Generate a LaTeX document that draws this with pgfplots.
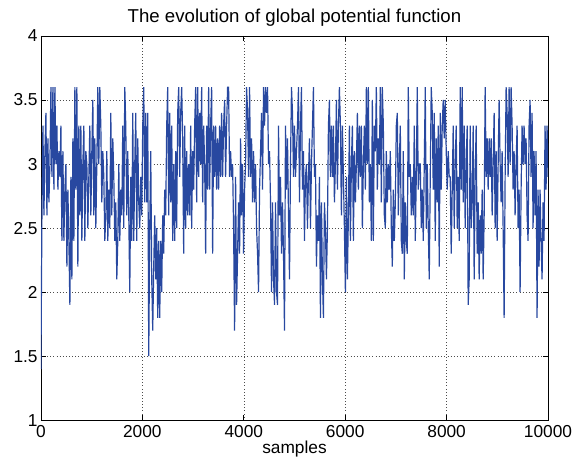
\documentclass[border=0pt]{standalone}
\usepackage{fontspec}
\setmainfont{Liberation Sans}
\usepackage{pgfplots}
\pgfplotsset{compat=1.18}
\definecolor{mblue}{RGB}{40,72,160}
\begin{document}
\fontsize{13}{15}\selectfont
\begin{tikzpicture}
\useasboundingbox (-30.75pt,-35.25pt) rectangle (402.75pt,315.75pt);
\begin{axis}[
  at={(0,0)}, anchor=south west,
  scale only axis, width=381pt, height=288.75pt,
  xmin=0, xmax=10000, ymin=1, ymax=4,
  xtick={0,2000,4000,6000,8000,10000},
  ytick={1,1.5,2,2.5,3,3.5,4},
  scaled x ticks=false,
  /pgf/number format/1000 sep={},
  /pgf/number format/assume math mode=true,
  tick align=inside, tick pos=both,
  major tick length=4pt,
  grid=major,
  major grid style={black!70, line width=0.35pt, dotted},
  axis line style={black, line width=0.6pt},
  tick style={black, line width=0.5pt},
  ticklabel style={font=\fontsize{13}{15}\selectfont},
  xlabel={samples},
  xlabel style={font=\fontsize{13}{15}\selectfont, yshift=6pt},
  title={The evolution of global potential function},
  title style={font=\fontsize{14}{16}\selectfont, yshift=-3pt},
  xticklabel style={yshift=1pt},
  yticklabel style={xshift=2pt},
]
\addplot[mblue, line width=0.9pt, line join=miter] table[row sep=\\, x expr=\coordindex*19.685, y=y] {
y\\
1.4\\ 2.6\\ 3.3\\ 2.6\\ 3.1\\ 3.4\\ 2.6\\ 3.2\\ 2.7\\ 3.0\\ 3.6\\ 2.9\\ 3.6\\ 2.8\\ 3.6\\ 3.0\\ 3.3\\ 2.8\\ 3.1\\ 2.9\\
3.3\\ 2.4\\ 3.1\\ 2.4\\ 2.8\\ 3.0\\ 2.2\\ 2.8\\ 2.4\\ 1.9\\ 2.9\\ 2.1\\ 3.2\\ 2.4\\ 3.6\\ 2.8\\ 3.6\\ 2.2\\ 3.3\\ 2.6\\
3.3\\ 2.4\\ 3.0\\ 3.3\\ 2.4\\ 3.1\\ 3.0\\ 2.5\\ 2.9\\ 3.3\\ 2.6\\ 3.1\\ 3.5\\
2.6\\ 3.2\\ 2.5\\ 3.0\\ 3.6\\ 3.0\\ 3.6\\ 3.3\\ 2.7\\ 3.1\\ 2.9\\ 2.4\\ 2.6\\ 3.1\\ 2.4\\ 2.8\\ 2.5\\ 3.4\\ 2.6\\ 3.2\\
2.9\\ 2.4\\ 2.7\\ 2.1\\ 2.4\\ 3.0\\ 2.4\\ 2.8\\ 2.6\\ 3.3\\ 2.5\\ 3.6\\ 3.3\\ 2.6\\ 3.1\\ 2.6\\ 2.0\\ 2.9\\ 2.4\\ 3.4\\
2.4\\ 3.0\\ 3.4\\ 2.4\\ 3.2\\ 2.7\\ 2.5\\ 2.9\\ 2.6\\ 3.3\\ 3.6\\ 2.7\\
3.4\\ 2.7\\ 3.4\\ 1.5\\ 2.5\\ 3.1\\ 2.1\\ 1.7\\ 2.2\\ 2.6\\ 2.1\\ 2.5\\ 1.8\\ 2.4\\ 1.8\\ 2.4\\ 2.0\\ 2.6\\ 2.3\\ 2.8\\
2.6\\ 3.3\\ 3.6\\ 2.6\\ 3.4\\ 2.7\\ 3.3\\ 2.4\\ 3.0\\ 2.4\\ 3.1\\ 2.5\\ 3.4\\ 3.6\\ 2.9\\ 3.4\\ 3.6\\ 3.2\\ 2.3\\ 3.3\\
2.5\\ 3.1\\ 2.6\\ 3.0\\ 2.6\\ 3.3\\ 2.5\\ 3.1\\ 2.8\\ 3.3\\ 3.6\\ 2.7\\
3.6\\ 2.9\\ 3.4\\ 3.0\\ 3.6\\ 2.7\\ 3.3\\ 3.0\\ 2.3\\ 3.3\\ 2.8\\ 3.6\\ 2.8\\ 3.3\\ 3.6\\ 2.3\\ 3.3\\ 2.9\\ 3.3\\ 2.8\\
3.2\\ 2.8\\ 3.3\\ 2.9\\ 3.4\\ 2.9\\ 3.3\\ 3.5\\ 2.9\\ 3.3\\ 3.6\\ 3.6\\ 2.9\\ 3.1\\ 2.9\\ 3.0\\ 2.5\\ 1.7\\ 2.9\\ 1.9\\
2.3\\ 2.7\\ 2.3\\ 3.2\\ 2.6\\ 3.0\\ 2.3\\ 2.8\\ 3.0\\ 3.6\\ 3.4\\ 2.9\\
3.6\\ 2.9\\ 3.2\\ 2.7\\ 3.1\\ 2.7\\ 3.0\\ 2.5\\ 2.3\\ 2.0\\ 2.8\\ 3.1\\ 3.4\\ 2.8\\ 3.6\\ 3.3\\ 3.6\\ 3.4\\ 3.6\\ 3.0\\
3.1\\ 2.7\\ 2.0\\ 2.7\\ 2.1\\ 1.9\\ 2.7\\ 2.0\\ 1.9\\ 3.3\\ 2.6\\ 2.9\\ 2.3\\ 2.7\\ 2.3\\ 1.7\\ 3.3\\ 2.8\\ 3.2\\ 2.6\\
2.1\\ 3.0\\ 3.6\\ 3.4\\ 2.9\\ 3.3\\ 2.9\\ 3.1\\ 3.3\\ 3.6\\ 2.7\\ 3.3\\
3.6\\ 2.8\\ 3.1\\ 2.4\\ 2.9\\ 3.0\\ 2.5\\ 2.9\\ 3.2\\ 2.5\\ 3.0\\ 3.3\\ 3.6\\ 2.9\\ 3.0\\ 2.2\\ 2.6\\ 2.4\\ 2.9\\ 1.8\\
2.7\\ 2.1\\ 1.8\\ 2.7\\ 2.5\\ 2.1\\ 2.5\\ 3.3\\ 3.5\\ 2.9\\ 3.3\\ 2.9\\ 3.3\\ 2.7\\ 3.0\\ 3.5\\ 2.8\\ 3.3\\ 3.6\\ 3.3\\
2.6\\ 3.3\\ 2.9\\ 2.5\\ 2.0\\ 2.9\\ 2.1\\ 2.6\\ 3.3\\ 2.4\\ 3.0\\ 3.3\\
2.4\\ 3.1\\ 2.7\\ 3.0\\ 3.4\\ 2.8\\ 3.3\\ 2.9\\ 3.3\\ 2.5\\ 3.0\\ 3.3\\ 2.8\\ 3.6\\ 3.0\\ 3.6\\ 2.7\\ 3.0\\ 2.4\\ 3.5\\
2.4\\ 3.3\\ 3.1\\ 3.6\\ 2.8\\ 3.2\\ 3.0\\ 3.6\\ 2.7\\ 3.6\\ 3.3\\ 2.6\\ 2.5\\ 3.1\\ 2.7\\ 3.0\\ 2.8\\ 3.1\\ 2.5\\ 2.2\\
2.8\\ 2.4\\ 2.7\\ 3.3\\ 3.4\\ 2.6\\ 3.0\\ 3.3\\ 2.4\\ 2.3\\ 3.1\\ 2.1\\
2.7\\ 2.4\\ 2.3\\ 3.6\\ 2.9\\ 3.0\\ 2.6\\ 2.9\\ 2.6\\ 3.3\\ 2.4\\ 2.9\\ 3.6\\ 2.8\\ 3.0\\ 3.0\\ 2.5\\ 2.8\\ 2.4\\ 3.0\\
3.6\\ 2.5\\ 3.0\\ 2.5\\ 2.1\\ 2.9\\ 3.6\\ 3.4\\ 2.8\\ 3.4\\ 2.4\\ 3.2\\ 2.7\\ 3.3\\ 2.2\\ 3.4\\ 2.8\\ 3.3\\ 3.5\\ 3.2\\
3.5\\ 3.1\\ 2.8\\ 3.1\\ 2.9\\ 2.9\\ 2.3\\ 2.8\\ 3.3\\ 2.5\\ 3.0\\ 3.3\\
2.5\\ 2.9\\ 2.4\\ 3.6\\ 2.8\\ 3.6\\ 2.7\\ 3.3\\ 2.5\\ 3.0\\ 3.3\\ 1.9\\ 2.1\\ 3.3\\ 2.5\\ 2.7\\ 3.3\\ 2.1\\ 2.9\\ 3.3\\
2.3\\ 2.7\\ 2.1\\ 2.6\\ 2.3\\ 2.8\\ 2.1\\ 2.6\\ 3.6\\ 2.9\\ 3.2\\ 2.8\\ 3.2\\ 2.9\\ 3.2\\ 2.6\\ 3.0\\ 3.4\\ 2.5\\ 3.1\\
2.4\\ 3.0\\ 3.5\\ 3.0\\ 2.7\\ 3.1\\ 2.5\\ 1.8\\ 2.9\\ 3.6\\
3.4\\ 2.9\\ 3.6\\ 3.0\\ 3.6\\ 3.3\\ 2.8\\ 3.1\\ 2.6\\ 3.0\\ 3.3\\ 2.5\\ 2.8\\ 2.0\\ 2.8\\ 3.3\\ 3.0\\ 3.3\\ 3.0\\ 3.2\\
2.6\\ 2.4\\ 3.3\\ 3.5\\ 2.9\\ 3.4\\ 2.5\\ 3.1\\ 2.6\\ 3.1\\ 1.8\\ 2.8\\ 2.2\\ 2.8\\ 2.4\\ 2.1\\ 2.7\\ 2.4\\ 3.3\\ 2.8\\
3.3\\ 2.9\\
};
\end{axis}
\end{tikzpicture}
\end{document}
